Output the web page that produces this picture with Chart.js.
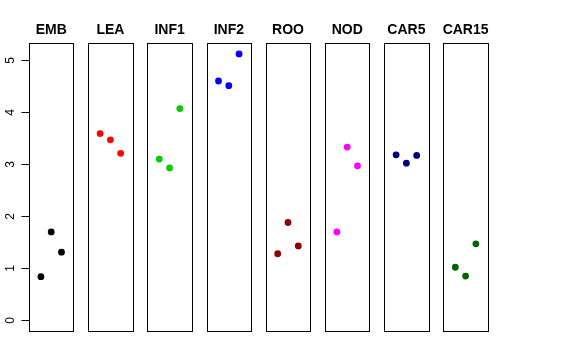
<!DOCTYPE html>
<html><head><meta charset="utf-8">
<script src="https://cdn.jsdelivr.net/npm/chart.js@4/dist/chart.umd.min.js"></script>
<style>
html,body{margin:0;padding:0;background:#fff;}
#wrap{position:relative;width:576px;height:360px;overflow:hidden;}
canvas{position:absolute;top:0;}
</style></head>
<body><div id="wrap"></div>
<script>
const categories = ['EMB','LEA','INF1','INF2','ROO','NOD','CAR5','CAR15'];
const replicates = [1, 2, 3];
const valuesEMB  = [0.84, 1.70, 1.31];
const valuesLEA  = [3.59, 3.47, 3.21];
const valuesINF1 = [3.10, 2.93, 4.07];
const valuesINF2 = [4.60, 4.51, 5.12];
const valuesROO  = [1.28, 1.88, 1.43];
const valuesNOD  = [1.70, 3.33, 2.97];
const valuesCAR5 = [3.18, 3.02, 3.17];
const valuesCAR15 = [1.02, 0.85, 1.47];
const yTickLabels = [0, 1, 2, 3, 4, 5];
const seriesColors = ['#000000','#FF0000','#00CD00','#0000FF','#8B0000','#FF00FF','#000080','#006400'];
const allValues = [valuesEMB, valuesLEA, valuesINF1, valuesINF2, valuesROO, valuesNOD, valuesCAR5, valuesCAR15];

const H = 360, TOP = 43, BOTTOM = 331;
const BOX_W = 44.4, FIRST_LEFT = 29, PITCH = 59.2;
const wrap = document.getElementById('wrap');

const panelPlugin = {
  id: 'panel',
  afterDraw(chart, args, opts) {
    const ctx = chart.ctx, a = chart.chartArea;
    ctx.save();
    ctx.strokeStyle = '#000';
    ctx.lineWidth = 1;
    const l = Math.round(a.left) + 0.5, r = Math.round(a.right) + 0.5;
    const t = Math.round(a.top) + 0.5, b = Math.round(a.bottom) + 0.5;
    ctx.strokeRect(l, t, r - l, b - t);
    ctx.fillStyle = '#000';
    ctx.font = 'bold 14px "Liberation Sans", Arial, sans-serif';
    ctx.textAlign = 'center';
    ctx.textBaseline = 'alphabetic';
    ctx.fillText(opts.title, (a.left + a.right) / 2, 34);
    if (opts.yaxis) {
      const ys = chart.scales.y;
      const x0 = l;
      ctx.beginPath();
      ctx.moveTo(x0, Math.round(ys.getPixelForValue(yTickLabels[0])) + 0.5);
      ctx.lineTo(x0, Math.round(ys.getPixelForValue(yTickLabels[yTickLabels.length - 1])) + 0.5);
      ctx.stroke();
      ctx.font = '12px "Liberation Sans", Arial, sans-serif';
      yTickLabels.forEach(v => {
        const py = Math.round(ys.getPixelForValue(v)) + 0.5;
        ctx.beginPath();
        ctx.moveTo(x0 - 8, py);
        ctx.lineTo(x0, py);
        ctx.stroke();
        ctx.save();
        ctx.translate(13.5, py);
        ctx.rotate(-Math.PI / 2);
        ctx.textAlign = 'center';
        ctx.textBaseline = 'alphabetic';
        ctx.fillText(String(v), 0, 0);
        ctx.restore();
      });
    }
    ctx.restore();
  }
};

categories.forEach((cat, i) => {
  const boxLeft = FIRST_LEFT + i * PITCH;
  const cl = i === 0 ? 0 : Math.round(boxLeft) - 10;
  const cw = i === 0 ? 90 : 66;
  const padL = boxLeft - cl;
  const padR = cw - padL - BOX_W;
  const cv = document.createElement('canvas');
  cv.width = cw; cv.height = H;
  cv.style.left = cl + 'px';
  cv.style.width = cw + 'px'; cv.style.height = H + 'px';
  wrap.appendChild(cv);
  new Chart(cv, {
    type: 'scatter',
    data: {
      datasets: [{
        data: replicates.map((r, k) => ({x: r, y: allValues[i][k]})),
        backgroundColor: seriesColors[i],
        borderColor: seriesColors[i],
        borderWidth: 0,
        pointRadius: 3.4,
        pointHoverRadius: 3.4
      }]
    },
    options: {
      responsive: false,
      animation: false,
      devicePixelRatio: 1,
      layout: {padding: {left: padL, right: padR, top: TOP, bottom: H - BOTTOM}},
      scales: {
        x: {type: 'linear', min: -0.16, max: 4.16, display: false},
        y: {type: 'linear', min: -0.205, max: 5.33, display: false}
      },
      plugins: {
        legend: {display: false},
        tooltip: {enabled: false},
        title: {display: false},
        panel: {title: cat, yaxis: i === 0}
      }
    },
    plugins: [panelPlugin]
  });
});
</script></body></html>
